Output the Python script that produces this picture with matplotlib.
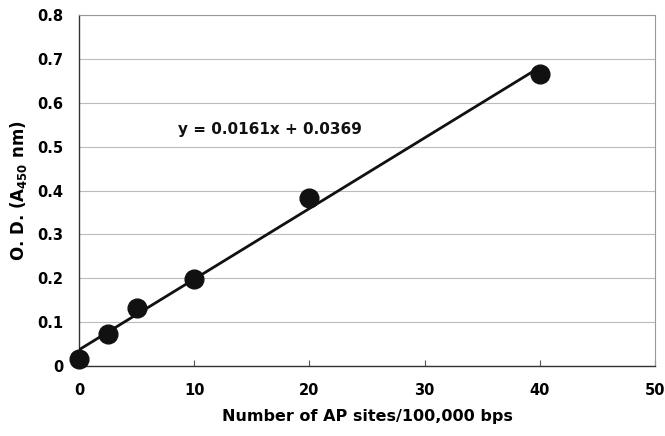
import matplotlib.pyplot as plt
import numpy as np

# AP site standard curve
ap_sites = [0, 2.5, 5, 10, 20, 40]
od_450 = [0.016, 0.073, 0.133, 0.199, 0.384, 0.666]
slope, intercept = 0.0161, 0.0369

x_ticks = [0, 10, 20, 30, 40, 50]
y_ticks = [0, 0.1, 0.2, 0.3, 0.4, 0.5, 0.6, 0.7, 0.8]
y_tick_labels = ["0", "0.1", "0.2", "0.3", "0.4", "0.5", "0.6", "0.7", "0.8"]

plt.rcParams["font.family"] = ["DejaVu Sans"]
plt.rcParams["font.weight"] = "bold"

fig = plt.figure(figsize=(6.65, 4.36), dpi=100)
ax = fig.add_axes([79 / 665, 1 - 366 / 436, 576 / 665, 351 / 436])

# trendline from the fitted equation
fit_x = np.array([ap_sites[0], ap_sites[-1]])
ax.plot(fit_x, slope * fit_x + intercept, color="#111111", lw=2.0, zorder=3)
ax.plot(ap_sites, od_450, "o", color="#111111", markersize=13.5, zorder=4,
        clip_on=False)

ax.text(8.6, 0.54, f"y = {slope}x + {intercept}", fontsize=11,
        fontweight="bold", va="center", ha="left", color="#111111")

ax.set_xlim(0, 50)
ax.set_ylim(0, 0.8)
ax.set_xticks(x_ticks)
ax.set_yticks(y_ticks)
ax.set_yticklabels(y_tick_labels)
ax.grid(axis="y", color="#bbbbbb", lw=0.8)
ax.set_axisbelow(True)

for side in ["top", "right"]:
    ax.spines[side].set_color("#999999")
    ax.spines[side].set_linewidth(0.8)
for side in ["left", "bottom"]:
    ax.spines[side].set_color("#333333")
    ax.spines[side].set_linewidth(1.0)

ax.tick_params(axis="x", direction="in", length=4, color="#555555",
               labelsize=10.5, pad=12)
ax.tick_params(axis="y", length=0, labelsize=10.5, pad=11)

ax.set_xlabel("Number of AP sites/100,000 bps", fontsize=11.5,
              fontweight="bold", labelpad=8)
ax.set_ylabel("O. D. (A$_{\\mathbf{450}}$ nm)", fontsize=12,
              fontweight="bold", labelpad=6)

fig.savefig("out.png", dpi=100)
